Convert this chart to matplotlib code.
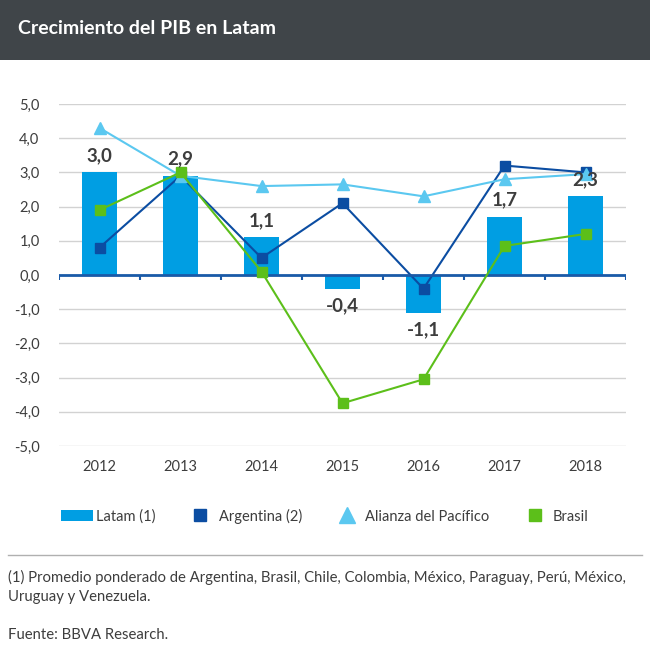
import numpy as np
import matplotlib
matplotlib.use("Agg")
from matplotlib import pyplot as plt
from matplotlib.patches import Patch, Rectangle
from matplotlib.lines import Line2D

plt.rcParams['font.family'] = ['Lato', 'DejaVu Sans']

# datos
anios = ['2012', '2013', '2014', '2015', '2016', '2017', '2018']
latam = [3.0, 2.9, 1.1, -0.4, -1.1, 1.7, 2.3]
argentina = [0.8, 2.9, 0.5, 2.1, -0.4, 3.2, 3.0]
alianza = [4.3, 2.9, 2.6, 2.65, 2.3, 2.8, 2.95]
brasil = [1.9, 3.0, 0.1, -3.75, -3.05, 0.85, 1.2]
etiquetas_y = np.arange(-5, 6, 1)

c_bar = '#009ee3'
c_arg = '#0b4da2'
c_ali = '#5bc8f0'
c_bra = '#5cbf1a'
c_txt = '#3d3d3d'

fig = plt.figure(figsize=(6.5, 6.59), dpi=100)

# cabecera
fig.patches.append(Rectangle((0, 1 - 60/659), 1, 60/659, transform=fig.transFigure,
                             facecolor='#404549', edgecolor='none'))
fig.text(18/650, 1 - 28/659, 'Crecimiento del PIB en Latam', color='white',
         fontsize=14, fontweight='bold', va='center', ha='left')

ax = fig.add_axes([59/650, 1 - 446/659, (626 - 59)/650, (446 - 104)/659])
x = np.arange(len(anios))

ax.bar(x, latam, width=0.42, color=c_bar, zorder=2)
ax.plot(x, argentina, color=c_arg, lw=1.5, marker='s', ms=7, zorder=3)
ax.plot(x, alianza, color=c_ali, lw=1.5, marker='^', ms=8, zorder=3)
ax.plot(x, brasil, color=c_bra, lw=1.5, marker='s', ms=7, zorder=4)

for xi, v in zip(x, latam):
    txt = ('%.1f' % v).replace('.', ',')
    if v >= 0:
        ax.text(xi, v + 0.25, txt, ha='center', va='bottom', fontsize=13.5,
                fontweight='bold', color=c_txt, zorder=5)
    else:
        ax.text(xi, v - 0.25, txt, ha='center', va='top', fontsize=13.5,
                fontweight='bold', color=c_txt, zorder=5)

ax.set_xlim(-0.5, len(anios) - 0.5)
ax.set_ylim(-5, 5)
ax.set_yticks(etiquetas_y)
ax.set_yticklabels([('%.1f' % v).replace('.', ',') for v in etiquetas_y],
                   fontsize=10.5, color=c_txt)
ax.set_xticks(x)
ax.set_xticklabels(anios, fontsize=10.5, color=c_txt)
ax.tick_params(axis='both', length=0)
ax.tick_params(axis='y', pad=14)
ax.tick_params(axis='x', pad=10)
for s in ax.spines.values():
    s.set_visible(False)
ax.grid(axis='y', color='#d2d2d2', lw=1, zorder=0)
ax.set_axisbelow(True)

# eje cero con marcas
ax.axhline(0, color='#1a5aa8', lw=2, zorder=3)
ax.vlines(np.arange(len(anios) + 1) - 0.5, -0.15, 0, color='#1a5aa8', lw=1.5, zorder=3)

# leyenda
handles = [
    Patch(facecolor=c_bar, edgecolor='none'),
    Line2D([], [], color=c_arg, marker='s', ms=9, ls='none'),
    Line2D([], [], color=c_ali, marker='^', ms=11, ls='none'),
    Line2D([], [], color=c_bra, marker='s', ms=9, ls='none'),
]
fig.legend(handles, ['Latam (1)', 'Argentina (2)', 'Alianza del Pacífico', 'Brasil'],
           loc='center', bbox_to_anchor=(0.5, 1 - 516/659), ncol=4, frameon=False,
           fontsize=10.5, handlelength=2.2, handleheight=0.8, handletextpad=0.15,
           columnspacing=2.0, labelcolor=c_txt)

# pie
fig.add_artist(Line2D([8/650, 642/650], [1 - 555/659, 1 - 555/659],
                      transform=fig.transFigure, color='#b0b0b0', lw=1))
fig.text(8/650, 1 - 577/659,
         '(1) Promedio ponderado de Argentina, Brasil, Chile, Colombia, México, Paraguay, Perú, México,',
         fontsize=10.7, color=c_txt, va='center', ha='left')
fig.text(8/650, 1 - 597/659, 'Uruguay y Venezuela.', fontsize=10.7, color=c_txt,
         va='center', ha='left')
fig.text(8/650, 1 - 635/659, 'Fuente: BBVA Research.', fontsize=10.7, color=c_txt,
         va='center', ha='left')

fig.savefig('out.png', dpi=100)
